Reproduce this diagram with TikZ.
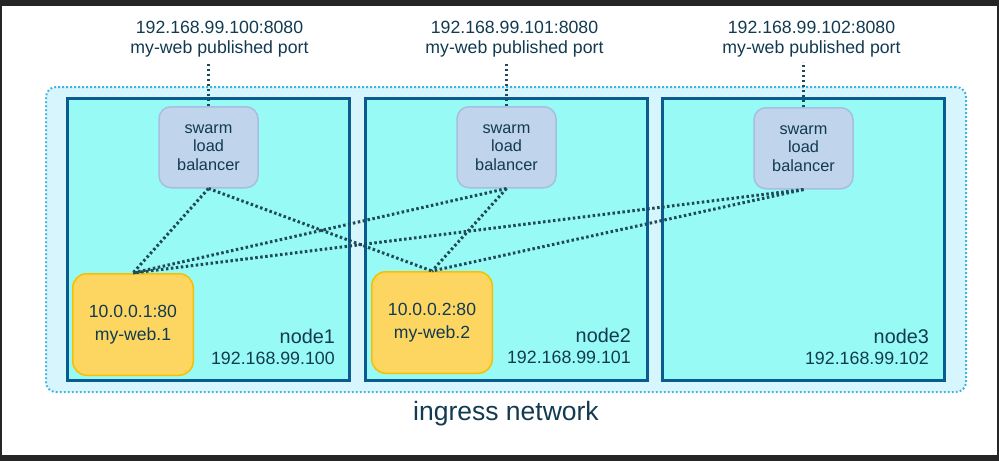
\documentclass[tikz,border=0pt]{standalone}
\usepackage{fontspec}
\setmainfont{Liberation Sans}
\usepackage{xcolor}
\usepackage{tikz}
\usetikzlibrary{positioning,shapes,arrows.meta,backgrounds,fit,calc}
\definecolor{framegray}{RGB}{38,38,38}
\definecolor{inkblue}{RGB}{18,58,80}
\definecolor{aqua}{RGB}{152,250,244}
\definecolor{hostblue}{RGB}{10,92,142}
\definecolor{ingressfill}{RGB}{214,245,252}
\definecolor{ingressdot}{RGB}{62,178,226}
\definecolor{lbfill}{RGB}{192,212,236}
\definecolor{lbdraw}{RGB}{166,190,224}
\definecolor{webfill}{RGB}{253,214,98}
\definecolor{webdraw}{RGB}{246,192,0}
\definecolor{wire}{RGB}{30,74,90}
\tikzstyle{host}=[%
      rectangle, draw=hostblue, line width=3pt, fill=aqua,
      minimum width=282pt, minimum height=282pt, inner sep=0pt
]
\tikzstyle{lb}=[%
      rectangle, rounded corners=12pt, draw=lbdraw, line width=1.5pt, fill=lbfill,
      minimum width=99pt, minimum height=81pt, inner sep=0pt, align=center,
      font=\fontsize{16.3}{18.5}\selectfont
]
\tikzstyle{web}=[%
      rectangle, rounded corners=14pt, draw=webdraw, line width=1.5pt, fill=webfill,
      minimum width=120.5pt, minimum height=101.5pt, inner sep=0pt, align=center,
      font=\fontsize{17.6}{22.5}\selectfont
]
\tikzstyle{hostlabel}=[%
      inner sep=0pt, align=right, font=\fontsize{17.8}{21}\selectfont
]
\tikzstyle{portlabel}=[%
      inner sep=2pt, align=center, font=\fontsize{17.7}{20}\selectfont
]
\tikzstyle{ingress}=[%
      rectangle, rounded corners=10pt, draw=ingressdot, line width=2pt, fill=ingressfill,
      dash pattern=on 1.8pt off 2.2pt
]
\tikzstyle{wirelink}=[%
      draw=wire, line width=3pt, dash pattern=on 2.5pt off 2.5pt
]
\begin{document}
\begin{tikzpicture}[x=1pt, y=-1pt, text=inkblue]
    \useasboundingbox (0,0) rectangle (999,461);

    \node[host] (n1) at (208.5,239.5) {};
    \node[host] (n2) [right = 13pt of n1] {};
    \node[host] (n3) [right = 12pt of n2] {};

    \node[lb] (lb1) [below = 9pt of n1.north] {swarm\\load\\balancer};
    \node[lb] (lb2) [below = 9pt of n2.north] {swarm\\load\\balancer};
    \node[lb] (lb3) [below = 10pt of n3.north] {swarm\\load\\balancer};

    \node[web] (w1) [above right = 6pt and 6pt of n1.south west] {10.0.0.1:80\\my-web.1};
    \node[web] (w2) [above right = 8pt and 7pt of n2.south west] {10.0.0.2:80\\my-web.2};

    \node[hostlabel] (h1) [above left = 17pt and 16pt of n1.south east] {{\fontsize{19.8}{21}\selectfont node1}\\192.168.99.100};
    \node[hostlabel] (h2) [above left = 18pt and 18pt of n2.south east] {{\fontsize{19.8}{21}\selectfont node2}\\192.168.99.101};
    \node[hostlabel] (h3) [above left = 17pt and 17pt of n3.south east] {{\fontsize{19.8}{21}\selectfont node3}\\192.168.99.102};

    \node[portlabel] (p1) [above = 47pt of lb1.north, xshift=11pt] {192.168.99.100:8080\\my-web published port};
    \node[portlabel] (p2) [above = 47pt of lb2.north, xshift=8pt] {192.168.99.101:8080\\my-web published port};
    \node[portlabel] (p3) [above = 48pt of lb3.north, xshift=8pt] {192.168.99.102:8080\\my-web published port};

    \begin{scope}[on background layer]
      \fill[framegray] (0,0) rectangle (999,461);
      \fill[white] (2,6) rectangle (997,455);
      \node[ingress, fit=(n1)(n3), inner xsep=20pt, inner ysep=10pt] (ing) {};
    \end{scope}
    \node[font=\fontsize{26.5}{30}\selectfont, inner sep=0pt] (ingname) [below = 8pt of ing] {ingress network};

    \path[wirelink] (lb1.north) edge[shorten >=3pt] (lb1.north |- p1.south)
          (lb2.north) edge[shorten >=3pt] (lb2.north |- p2.south)
          (lb3.north) edge[shorten >=3pt] (lb3.north |- p3.south)
          (lb1.south) edge (w1.north)
          (lb1.south) edge (w2.north)
          (lb2.south) edge (w1.north)
          (lb2.south) edge (w2.north)
          (lb3.south) edge (w1.north)
          (lb3.south) edge (w2.north)
    ;

\end{tikzpicture}
\end{document}
